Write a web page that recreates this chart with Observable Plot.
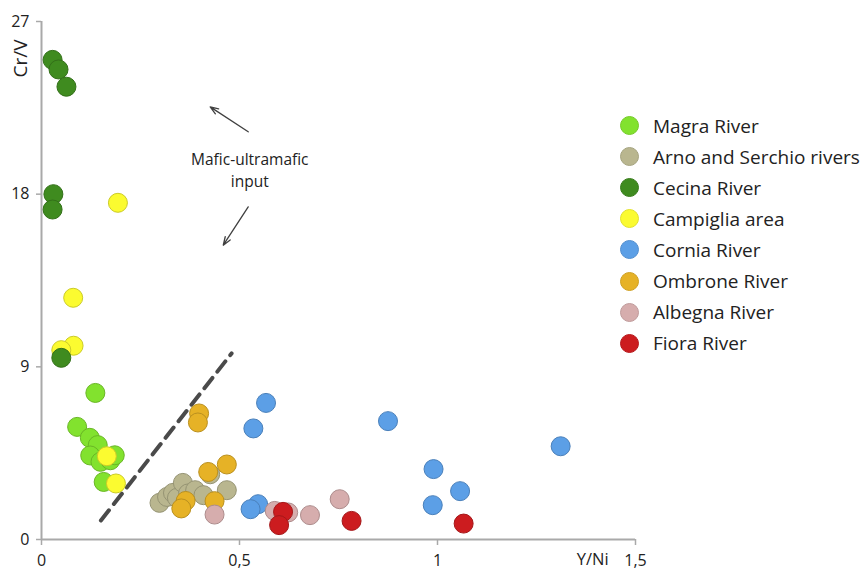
<!DOCTYPE html>
<html>
<head>
<meta charset="utf-8">
<script src="https://cdn.jsdelivr.net/npm/d3@7"></script>
<script src="https://cdn.jsdelivr.net/npm/@observablehq/plot@0.6"></script>
<style>
  html, body { margin: 0; padding: 0; background: #fff; }
  #wrap { position: relative; width: 866px; height: 570px; font-family: "Open Sans", sans-serif; }
  #legend { position: absolute; left: 620px; top: 110px; }
  .item { display: flex; align-items: center; height: 31.1px; font-size: 19px; color: #222; white-space: nowrap; }
  .sw { width: 19px; height: 19px; border-radius: 50%; box-sizing: border-box; margin-right: 14px; }
</style>
</head>
<body>
<div id="wrap"><div id="chart"></div><div id="legend"></div></div>
<script>
// ---- data ----
const categories = ["Magra River", "Arno and Serchio rivers", "Cecina River", "Campiglia area",
  "Cornia River", "Ombrone River", "Albegna River", "Fiora River"];
const colors = ["#82e22e", "#b9b68f", "#3f8b1f", "#fbfb30", "#5c9fe6", "#e6b226", "#d6adad", "#cc1c1f"];

const magra = [[0.136, 7.64], [0.090, 5.87], [0.122, 5.30], [0.142, 4.92], [0.123, 4.38],
  [0.149, 4.05], [0.174, 4.13], [0.185, 4.39], [0.157, 3.00]];
const arno = [[0.298, 1.91], [0.317, 2.22], [0.332, 2.43], [0.342, 2.17], [0.357, 2.95],
  [0.370, 2.40], [0.388, 2.57], [0.409, 2.31], [0.468, 2.57], [0.426, 3.40]];
const cecina = [[0.028, 25.0], [0.043, 24.5], [0.063, 23.6], [0.030, 18.0], [0.028, 17.2], [0.050, 9.47]];
const campiglia = [[0.193, 17.55], [0.080, 12.6], [0.081, 10.1], [0.050, 9.87], [0.165, 4.34], [0.188, 2.92]];
const cornia = [[0.567, 7.12], [0.535, 5.79], [0.547, 1.84], [0.528, 1.58], [0.875, 6.17],
  [1.311, 4.86], [0.990, 3.67], [1.057, 2.52], [0.988, 1.79]];
const ombrone = [[0.398, 6.57], [0.395, 6.10], [0.421, 3.52], [0.468, 3.91], [0.364, 2.01],
  [0.353, 1.62], [0.437, 2.00]];
const albegna = [[0.437, 1.30], [0.589, 1.49], [0.623, 1.41], [0.678, 1.27], [0.753, 2.10]];
const fiora = [[0.610, 1.44], [0.600, 0.75], [0.783, 0.97], [1.066, 0.83]];

const xTicks = [0, 0.5, 1, 1.5];
const yTicks = [0, 9, 18, 27];

// annotations
const dashLine = [[0.150, 0.99], [0.480, 9.70]];
const arrows = [[0.522, 21.25, 0.426, 22.55], [0.522, 17.34, 0.459, 15.34]];
const note = [[0.526, 19.3, "Mafic-ultramafic\ninput"]];
const xLabel = [[1.392, 0, "Y/Ni"]];

// ---- build table (draw order) ----
const seriesByName = {
  "Magra River": magra, "Arno and Serchio rivers": arno, "Cecina River": cecina,
  "Campiglia area": campiglia, "Cornia River": cornia, "Ombrone River": ombrone,
  "Albegna River": albegna, "Fiora River": fiora
};
const drawOrder = ["Magra River", "Campiglia area", "Cecina River", "Arno and Serchio rivers",
  "Ombrone River", "Cornia River", "Albegna River", "Fiora River"];
const colorOf = name => colors[categories.indexOf(name)];
const strokeOf = name => d3.color(colorOf(name)).darker(0.6).formatHex();
const points = drawOrder.flatMap(name => seriesByName[name].map(([x, y]) =>
  ({x, y, fill: colorOf(name), stroke: strokeOf(name)})));

const axisGray = "#a9a9a9";
const fmt = d => String(d).replace(".", ",");

const chart = Plot.plot({
  width: 866, height: 570,
  marginLeft: 41, marginRight: 231, marginTop: 21, marginBottom: 31,
  x: {domain: [0, 1.5]},
  y: {domain: [0, 27]},
  color: {type: "identity"},
  style: {fontFamily: "Open Sans", fontSize: "16px", color: "#222", background: "white", overflow: "visible"},
  marks: [
    Plot.axisX({ticks: xTicks, tickFormat: fmt, tickSize: 6, tickPadding: 9, stroke: axisGray, strokeWidth: 1.5, fill: "#222", label: null}),
    Plot.axisY({ticks: yTicks, tickFormat: fmt, tickSize: 5, tickPadding: 7, stroke: axisGray, strokeWidth: 1.5, fill: "#222", label: null}),
    Plot.ruleY([0], {stroke: axisGray, strokeWidth: 2}),
    Plot.ruleX([0], {stroke: axisGray, strokeWidth: 2}),
    Plot.line(dashLine, {x: d => d[0], y: d => d[1], stroke: "#4a4a4a", strokeWidth: 4, strokeDasharray: "13,8"}),
    Plot.arrow(arrows, {x1: d => d[0], y1: d => d[1], x2: d => d[2], y2: d => d[3], stroke: "#404040", strokeWidth: 1.3, headLength: 10, headAngle: 40}),
    Plot.text(note, {x: d => d[0], y: d => d[1], text: d => d[2], fontSize: 15.5, lineHeight: 1.4, fill: "#222"}),
    Plot.text(xLabel, {x: d => d[0], y: d => d[1], text: d => d[2], fontSize: 16.5, dy: 20, fill: "#222"}),
    Plot.text(["Cr/V"], {frameAnchor: "top-left", text: d => d, rotate: -90, dx: -21, dy: 37, textAnchor: "middle", lineAnchor: "middle", fontSize: 19, fill: "#222"}),
    Plot.dot(points, {x: "x", y: "y", r: 9.5, fill: "fill", stroke: "stroke", strokeWidth: 1, fillOpacity: 1})
  ]
});
document.getElementById("chart").appendChild(chart);

// ---- legend ----
const legend = document.getElementById("legend");
categories.forEach((name, i) => {
  const row = document.createElement("div");
  row.className = "item";
  const sw = document.createElement("span");
  sw.className = "sw";
  sw.style.background = colors[i];
  sw.style.border = "1px solid " + d3.color(colors[i]).darker(0.3).formatHex();
  const t = document.createElement("span");
  t.textContent = name;
  row.appendChild(sw);
  row.appendChild(t);
  legend.appendChild(row);
});
</script>
</body>
</html>
